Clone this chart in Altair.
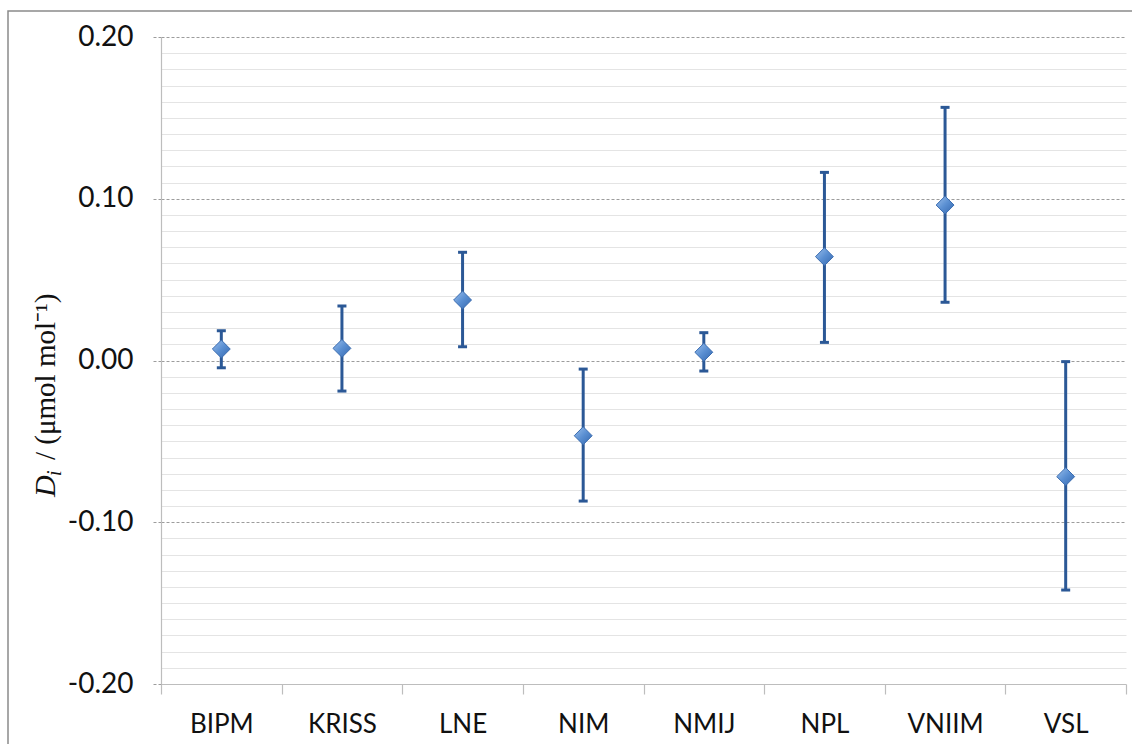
import altair as alt
import pandas as pd

# ---- data ----
labs = ["BIPM", "KRISS", "LNE", "NIM", "NMIJ", "NPL", "VNIIM", "VSL"]
di = [0.0071, 0.0075, 0.0374, -0.0465, 0.0051, 0.0642, 0.0961, -0.0718]
lo = [-0.0045, -0.0189, 0.0085, -0.0869, -0.0065, 0.0112, 0.0360, -0.1419]
hi = [0.0184, 0.0337, 0.0669, -0.0053, 0.0172, 0.1163, 0.1565, -0.0007]
yticks = [round(-0.20 + 0.01 * k, 2) for k in range(41)]

df = pd.DataFrame({"lab": labs, "d": di, "lo": lo, "hi": hi})

BAR = "#2B5896"
GRID_MAJOR = "#9C9C9C"
GRID_MINOR = "#E4E4E4"
AXIS = "#BDBDBD"
TXT = "#111111"

major = "abs(datum.value*10 - round(datum.value*10)) < 0.0001"

xscale = alt.Scale(domain=labs, paddingInner=0, paddingOuter=0)
xenc = alt.X(
    "lab:N",
    sort=labs,
    scale=xscale,
    title=None,
    axis=alt.Axis(
        labelFont="Lato",
        labelFontSize=26,
        labelColor=TXT,
        labelPadding=17,
        labelAngle=0,
        tickBand="extent",
        tickSize=10,
        tickColor=AXIS,
        tickWidth=1.2,
        domainColor=AXIS,
        domainWidth=1.2,
        grid=False,
    ),
)

yscale = alt.Scale(domain=[-0.2, 0.2], nice=False, zero=False)
yenc = alt.Y(
    "lo:Q",
    scale=yscale,
    title=None,
    axis=alt.Axis(
        values=yticks,
        tickCount=100,
        labelExpr=f"({major}) ? ((datum.value < -0.001 ? '-' : '') + format(abs(datum.value), '.2f')) : ''",
        labelOverlap=False,
        labelFont="Lato",
        labelFontSize=28,
        labelColor=TXT,
        labelPadding=20,
        grid=True,
        gridColor={"condition": {"test": major, "value": GRID_MAJOR}, "value": GRID_MINOR},
        gridDash={"condition": {"test": major, "value": [3, 2]}, "value": []},
        gridWidth=1,
        tickSize=8,
        tickColor={"condition": {"test": major, "value": GRID_MAJOR}, "value": "transparent"},
        tickDash=[3, 2],
        domainColor=AXIS,
        domainWidth=1.2,
    ),
)

base = alt.Chart(df)

rule = base.mark_rule(color=BAR, strokeWidth=3).encode(x=xenc, y=yenc, y2="hi:Q")
cap_lo = base.mark_tick(color=BAR, size=9, thickness=3, opacity=1).encode(
    x=alt.X("lab:N", sort=labs, scale=xscale, title=None),
    y=alt.Y("lo:Q", scale=yscale, title=None),
)
cap_hi = base.mark_tick(color=BAR, size=9, thickness=3, opacity=1).encode(
    x=alt.X("lab:N", sort=labs, scale=xscale, title=None),
    y=alt.Y("hi:Q", scale=yscale, title=None),
)
grad = alt.Gradient(
    gradient="linear",
    x1=0, y1=0, x2=1, y2=1,
    stops=[
        alt.GradientStop(offset=0, color="#9CC0EC"),
        alt.GradientStop(offset=0.5, color="#5A8FD2"),
        alt.GradientStop(offset=1, color="#3467AE"),
    ],
)
pts = base.mark_point(
    shape="diamond", filled=True, size=320, color=grad, stroke="#3A6CB0", strokeWidth=1, opacity=1
).encode(
    x=alt.X("lab:N", sort=labs, scale=xscale, title=None),
    y=alt.Y("d:Q", scale=yscale, title=None),
)

# ---- y-axis title drawn as text pieces (italic D with subscript i) ----
def piece(txt, x, y, size, style="normal"):
    return alt.Chart(pd.DataFrame({"t": [txt]})).mark_text(
        font="Liberation Serif", fontSize=size, fontStyle=style, angle=270,
        align="left", baseline="alphabetic", color=TXT,
    ).encode(text="t:N", x=alt.value(x), y=alt.value(y))

title_parts = [
    piece("D", -106, 460, 30, "italic"),
    piece("i", -100, 439, 20, "italic"),
    piece("/\u00a0(\u03bcmol mol\u207b\u00b9)", -106, 423, 29),
]

border = alt.Chart(pd.DataFrame({"t": [0]})).mark_rect(
    fill="transparent", stroke="#8A8A8A", strokeWidth=1.5
).encode(x=alt.value(-153), x2=alt.value(1100), y=alt.value(-26), y2=alt.value(800))

chart = alt.layer(rule, cap_lo, cap_hi, pts, *title_parts, border).properties(
    width=965,
    height=647,
    autosize=alt.AutoSizeParams(type="none"),
    padding={"left": 161, "top": 37, "right": 6, "bottom": 60},
    background="white",
).configure_view(strokeWidth=0)

chart.save("out.html", embed_options={"renderer": "svg", "actions": False})
